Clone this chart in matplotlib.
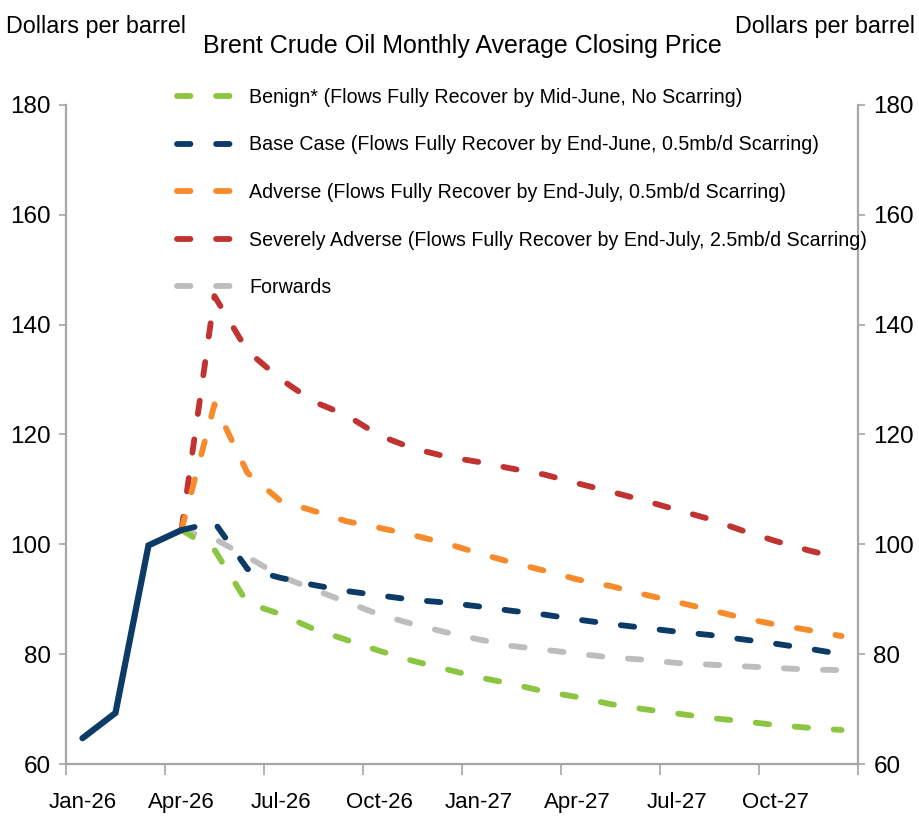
import numpy as np
import matplotlib
matplotlib.use("Agg")
import matplotlib.pyplot as plt
from matplotlib import font_manager

names = {f.name for f in font_manager.fontManager.ttflist}
narrow = "Liberation Sans Narrow" if "Liberation Sans Narrow" in names else "Liberation Sans"
plt.rcParams["font.family"] = [narrow, "DejaVu Sans"]

months = ["Jan-26", "Feb-26", "Mar-26", "Apr-26", "May-26", "Jun-26", "Jul-26", "Aug-26",
          "Sep-26", "Oct-26", "Nov-26", "Dec-26", "Jan-27", "Feb-27", "Mar-27", "Apr-27",
          "May-27", "Jun-27", "Jul-27", "Aug-27", "Sep-27", "Oct-27", "Nov-27", "Dec-27"]

# actuals Jan-26 .. Apr-26
history = [64.7, 69.3, 99.8, 102.6]

# scenarios Apr-26 .. Dec-27
benign = [102.6, 99.0, 89.3, 87.3, 84.6, 82.6, 80.6, 78.8, 77.3, 75.8, 74.6, 73.2,
          72.2, 70.9, 70.0, 69.2, 68.4, 67.8, 67.1, 66.6, 66.2]
base = [102.6, 104.0, 95.5, 93.9, 92.6, 91.5, 90.7, 89.9, 89.4, 88.7, 87.9, 87.2,
        86.3, 85.5, 84.8, 84.1, 83.5, 82.7, 81.9, 81.0, 80.0]
adverse = [102.6, 125.5, 113.0, 107.9, 106.1, 104.2, 103.0, 101.7, 100.2, 98.4, 96.7, 95.2,
           93.6, 92.4, 90.9, 89.5, 88.1, 86.6, 85.4, 84.4, 83.3]
severe = [102.6, 145.2, 135.2, 130.1, 126.0, 123.5, 119.8, 117.5, 116.0, 115.0, 113.8, 112.7,
          111.1, 109.6, 108.0, 106.3, 104.6, 102.5, 100.6, 98.9, 97.4]
forwards = [102.6, 101.0, 97.7, 94.2, 91.8, 89.5, 87.2, 85.5, 84.0, 82.7, 81.5, 80.8,
            80.1, 79.4, 79.0, 78.4, 78.1, 77.8, 77.5, 77.2, 77.1]

labels = ["Benign* (Flows Fully Recover by Mid-June, No Scarring)",
          "Base Case (Flows Fully Recover by End-June, 0.5mb/d Scarring)",
          "Adverse (Flows Fully Recover by End-July, 0.5mb/d Scarring)",
          "Severely Adverse (Flows Fully Recover by End-July, 2.5mb/d Scarring)",
          "Forwards"]
colors = ["#8CC541", "#0C3B67", "#F78A2A", "#C03331", "#BDBDBD"]

fig = plt.figure(figsize=(9.2, 8.24), dpi=100)
ax = fig.add_axes([0.0717, 0.0728, 0.861, 0.7998])

x_hist = np.arange(len(history))
x_scen = np.arange(3, len(months))

ax.plot(x_hist, history, color=colors[1], lw=4.5, solid_capstyle="round",
        solid_joinstyle="miter", zorder=5)

series = [benign, base, adverse, severe, forwards]
order = [3, 2, 4, 0, 1]
for i in order:
    ax.plot(x_scen, series[i], color=colors[i], lw=4.2, dashes=(2.3, 4.4),
            dash_capstyle="round", label=labels[i], zorder=3 + (i == 1))

handles, labs = ax.get_legend_handles_labels()
lookup = dict(zip(labs, handles))
leg = ax.legend([lookup[l] for l in labels], labels, loc="upper left",
                bbox_to_anchor=(0.13, 1.038), frameon=False, fontsize=14.1,
                handlelength=3.4, handletextpad=0.3, labelspacing=1.46,
                borderaxespad=0)

ax.set_xlim(-0.5, 23.5)
ax.set_ylim(60, 180)
ax.set_yticks(range(60, 181, 20))
ax.set_xticks(np.arange(-0.5, 24, 3))
ax.set_xticklabels([])
ax.set_xticks(np.arange(0, 24, 3), minor=True)
ax.set_xticklabels(months[::3], minor=True)
ax.tick_params(axis="x", which="major", length=8, width=1.2, color="#A6A6A6", direction="out")
ax.tick_params(axis="x", which="minor", length=0, labelsize=16, pad=20)
ax.tick_params(axis="y", length=5, width=1.2, color="#A6A6A6", labelsize=17.5,
               left=True, right=True, labelleft=True, labelright=True, pad=6)

for side in ["left", "right", "bottom"]:
    ax.spines[side].set_color("#A6A6A6")
    ax.spines[side].set_linewidth(1.6)
ax.spines["top"].set_visible(False)

fig.text(0.006, 0.968, "Dollars per barrel", fontsize=16.8, ha="left", va="center")
fig.text(0.995, 0.968, "Dollars per barrel", fontsize=16.8, ha="right", va="center")
fig.text(0.503, 0.944, "Brent Crude Oil Monthly Average Closing Price", fontsize=18,
         ha="center", va="center")

fig.savefig("out.png", dpi=100)
